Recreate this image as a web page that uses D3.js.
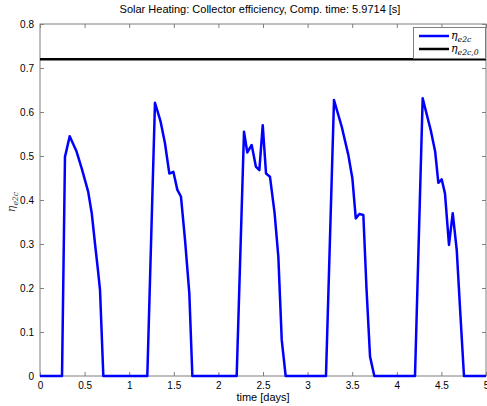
<!DOCTYPE html>
<html><head><meta charset="utf-8">
<script src="https://cdn.jsdelivr.net/npm/d3@7"></script>
<style>body{margin:0;background:#fff}svg{display:block}text{font-family:"Liberation Sans",Arial,sans-serif}</style>
</head><body>
<script>
const title = "Solar Heating: Collector efficiency, Comp. time: 5.9714 [s]";
const xLabel = "time [days]";
const xTicks = [0,0.5,1,1.5,2,2.5,3,3.5,4,4.5,5];
const yTicks = [0,0.1,0.2,0.3,0.4,0.5,0.6,0.7,0.8];
const timeDays = [0,0.247,0.28,0.333,0.41,0.47,0.54,0.58,0.617,0.65,0.673,0.71,
  1.203,1.289,1.35,1.401,1.45,1.495,1.54,1.58,1.626,1.674,1.708,
  2.205,2.287,2.324,2.373,2.42,2.459,2.497,2.534,2.578,2.63,2.672,2.71,2.754,
  3.206,3.296,3.382,3.457,3.502,3.54,3.58,3.625,3.66,3.70,3.748,
  4.204,4.29,4.38,4.43,4.466,4.503,4.54,4.585,4.627,4.672,4.71,4.753,5];
const etaE2c = [0,0,0.498,0.545,0.51,0.47,0.419,0.37,0.30,0.24,0.195,0,
  0,0.621,0.58,0.529,0.46,0.464,0.423,0.408,0.309,0.188,0,
  0,0.555,0.508,0.525,0.476,0.468,0.570,0.46,0.453,0.37,0.271,0.082,0,
  0,0.627,0.567,0.502,0.449,0.358,0.368,0.366,0.20,0.044,0,
  0,0.631,0.559,0.51,0.439,0.447,0.415,0.298,0.37,0.286,0.15,0,0];
const etaE2c0 = [0.72,0.72];
const etaE2c0Time = [0,5];

const W=487,H=406, L=40, R=486, T=24, B=376;
const svg=d3.select("body").append("svg").attr("width",W).attr("height",H);
const x=d3.scaleLinear().domain([0,5]).range([L,R]);
const y=d3.scaleLinear().domain([0,0.8]).range([B,T]);
const axisCol="#7f7f7f";

svg.append("rect").attr("x",L).attr("y",T).attr("width",R-L).attr("height",B-T)
  .attr("fill","none").attr("stroke",axisCol).attr("stroke-width",1);

const fmt=d=>d3.format("")(+d.toFixed(2));
const gx=svg.append("g").attr("transform",`translate(0,${B})`)
  .call(d3.axisBottom(x).tickValues(xTicks).tickFormat(fmt).tickSizeInner(-4).tickSizeOuter(0).tickPadding(6));
const gxt=svg.append("g").attr("transform",`translate(0,${T})`)
  .call(d3.axisTop(x).tickValues(xTicks).tickFormat("").tickSizeInner(-4).tickSizeOuter(0));
const gy=svg.append("g").attr("transform",`translate(${L},0)`)
  .call(d3.axisLeft(y).tickValues(yTicks).tickFormat(fmt).tickSizeInner(-4).tickSizeOuter(0).tickPadding(6));
const gyr=svg.append("g").attr("transform",`translate(${R},0)`)
  .call(d3.axisRight(y).tickValues(yTicks).tickFormat("").tickSizeInner(-4).tickSizeOuter(0));
[gx,gxt,gy,gyr].forEach(g=>{
  g.select(".domain").remove();
  g.selectAll("line").attr("stroke",axisCol);
  g.selectAll("text").attr("fill","#000").style("font-size","10px").style("font-family","'Liberation Sans',Arial,sans-serif");
});

const line=d3.line().x(d=>x(d[0])).y(d=>y(d[1]));
svg.append("path").datum(etaE2c0Time.map((t,i)=>[t,etaE2c0[i]])).attr("d",line)
  .attr("fill","none").attr("stroke","#000").attr("stroke-width",2.5);
svg.append("path").datum(timeDays.map((t,i)=>[t,etaE2c[i]])).attr("d",line)
  .attr("fill","none").attr("stroke","#0000ff").attr("stroke-width",2.5).attr("stroke-linejoin","round");

svg.append("text").attr("x",(L+R)/2-3).attr("y",13).attr("text-anchor","middle")
  .style("font-size","11px").text(title);
svg.append("text").attr("x",(L+R)/2).attr("y",401).attr("text-anchor","middle")
  .style("font-size","11px").text(xLabel);

function eta(sel, sub, size){
  sel.append("tspan").style("font-family","'DejaVu Serif',serif").style("font-style","italic").style("font-size",size+"px").text("η");
  sel.append("tspan").attr("dy",3).style("font-family","'DejaVu Serif',serif").style("font-style","italic").style("font-size",(size*0.7)+"px").text(sub);
}
const yl=svg.append("text").attr("transform",`translate(15,${(T+B)/2+2}) rotate(-90)`).attr("text-anchor","middle").attr("fill","#444");
eta(yl,"e2c",11);

const lg=svg.append("g");
lg.append("rect").attr("x",413.5).attr("y",27.5).attr("width",72).attr("height",31)
  .attr("fill","#fff").attr("stroke",axisCol).attr("stroke-width",1);
const items=[{c:"#0000ff",s:"e2c",yy:36},{c:"#000",s:"e2c,0",yy:49}];
items.forEach(it=>{
  lg.append("line").attr("x1",419).attr("x2",449).attr("y1",it.yy).attr("y2",it.yy)
    .attr("stroke",it.c).attr("stroke-width",2.5);
  const t=lg.append("text").attr("x",451).attr("y",it.yy+3);
  eta(t,it.s,11);
});
</script>
</body></html>
